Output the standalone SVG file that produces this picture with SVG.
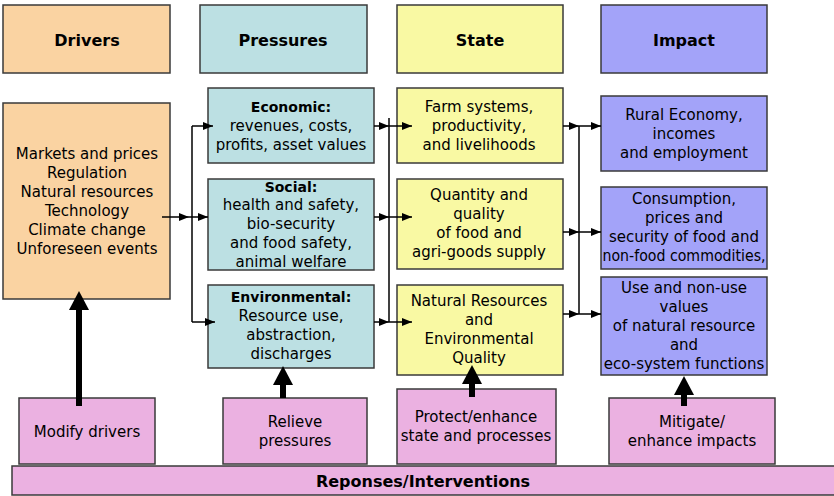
<svg xmlns="http://www.w3.org/2000/svg" width="834" height="496" viewBox="0 0 834 496">
<defs>
<style>
.b{stroke:#3a3a3a;stroke-width:1.5}
.dr{fill:#FAD3A2}.pr{fill:#BCE0E3}.st{fill:#F9F9A3}.im{fill:#A3A3F9}.re{fill:#EBB1E1}
text{font-family:"DejaVu Sans","Liberation Sans",sans-serif;font-size:15px;fill:#000;text-anchor:middle}
.h{font-weight:bold;font-size:16px}
.bt{font-weight:bold;font-size:14px}
.bb{font-weight:bold;font-size:16px}
.c{stroke:#000;stroke-width:1.5;fill:none}
.t{stroke:#000;stroke-width:6;fill:none}
</style>
<marker id="a" markerUnits="userSpaceOnUse" markerWidth="12" markerHeight="10" refX="11" refY="5" orient="auto"><path d="M1,1 L11,5 L1,9 Z" fill="#000"/></marker>
<marker id="T" markerUnits="userSpaceOnUse" markerWidth="20" markerHeight="22" refX="0" refY="11" orient="auto"><path d="M0,1 L19,11 L0,21 Z" fill="#000"/></marker>
</defs>
<g id="drivers-h"><rect class="b dr" x="3" y="5" width="167" height="68"/><text class="h" x="87" y="46">Drivers</text></g>
<g id="pressures-h"><rect class="b pr" x="200" y="5" width="167" height="68"/><text class="h" x="283" y="46">Pressures</text></g>
<g id="state-h"><rect class="b st" x="397" y="5" width="166" height="68"/><text class="h" x="480" y="46">State</text></g>
<g id="impact-h"><rect class="b im" x="601" y="5" width="166" height="68"/><text class="h" x="684" y="46">Impact</text></g>

<g id="drivers"><rect class="b dr" x="3" y="103" width="167" height="196"/>
<text x="87" y="159">Markets and prices</text><text x="87" y="178">Regulation</text><text x="87" y="197">Natural resources</text><text x="87" y="216">Technology</text><text x="87" y="235">Climate change</text><text x="87" y="254">Unforeseen events</text></g>

<g id="economic"><rect class="b pr" x="208" y="88" width="166" height="75"/>
<text class="bt" x="291" y="112">Economic:</text><text x="291" y="131">revenues, costs,</text><text x="291" y="150">profits, asset values</text></g>
<g id="social"><rect class="b pr" x="208" y="179" width="166" height="91"/>
<text class="bt" x="291" y="192">Social:</text><text x="291" y="210">health and safety,</text><text x="291" y="229">bio-security</text><text x="291" y="248">and food safety,</text><text x="291" y="267">animal welfare</text></g>
<g id="environmental"><rect class="b pr" x="208" y="285" width="166" height="83"/>
<text class="bt" x="291" y="302">Environmental:</text><text x="291" y="321">Resource use,</text><text x="291" y="340">abstraction,</text><text x="291" y="359">discharges</text></g>

<g id="farm"><rect class="b st" x="397" y="88" width="166" height="75"/>
<text x="479" y="112">Farm systems,</text><text x="479" y="131">productivity,</text><text x="479" y="150">and livelihoods</text></g>
<g id="quantity"><rect class="b st" x="397" y="179" width="166" height="90"/>
<text x="479" y="200">Quantity and</text><text x="479" y="219">quality</text><text x="479" y="238">of food and</text><text x="479" y="257">agri-goods supply</text></g>
<g id="natural"><rect class="b st" x="397" y="285" width="166" height="90"/>
<text x="479" y="306">Natural Resources</text><text x="479" y="325">and</text><text x="479" y="344">Environmental</text><text x="479" y="363">Quality</text></g>

<g id="rural"><rect class="b im" x="601" y="96" width="166" height="75"/>
<text x="684" y="120">Rural Economy,</text><text x="684" y="139">incomes</text><text x="684" y="158">and employment</text></g>
<g id="consumption"><rect class="b im" x="601" y="187" width="166" height="82"/>
<text x="684" y="204">Consumption,</text><text x="684" y="223">prices and</text><text x="684" y="242">security of food and</text><text x="684" y="261" textLength="163" lengthAdjust="spacingAndGlyphs">non-food commodities,</text></g>
<g id="use"><rect class="b im" x="601" y="277" width="166" height="98"/>
<text x="684" y="293">Use and non-use</text><text x="684" y="312">values</text><text x="684" y="331">of natural resource</text><text x="684" y="350">and</text><text x="684" y="369">eco-system functions</text></g>

<g id="responses"><rect class="b re" x="12" y="466" width="830" height="29"/><text class="bb" x="423" y="487">Reponses/Interventions</text></g>
<g id="modify"><rect class="b re" x="19" y="398" width="136" height="66"/><text x="87" y="437">Modify drivers</text></g>
<g id="relieve"><rect class="b re" x="223" y="398" width="144" height="66"/><text x="295" y="427">Relieve</text><text x="295" y="446">pressures</text></g>
<g id="protect"><rect class="b re" x="397" y="389" width="159" height="75"/><text x="476" y="422">Protect/enhance</text><text x="476" y="441">state and processes</text></g>
<g id="mitigate"><rect class="b re" x="609" y="398" width="166" height="66"/><text x="692" y="427">Mitigate/</text><text x="692" y="446">enhance impacts</text></g>

<g id="connectors">
<path class="c" d="M192 126 V322"/>
<path class="c" d="M162 217 H189" marker-end="url(#a)"/>
<path class="c" d="M189 217 H208" marker-end="url(#a)"/>
<path class="c" d="M192 126 H213" marker-end="url(#a)"/>
<path class="c" d="M192 322 H215" marker-end="url(#a)"/>
<path class="c" d="M389 118 V322"/>
<path class="c" d="M374 126 H389" marker-end="url(#a)"/>
<path class="c" d="M389 126 H412" marker-end="url(#a)"/>
<path class="c" d="M374 217 H389" marker-end="url(#a)"/>
<path class="c" d="M389 217 H412" marker-end="url(#a)"/>
<path class="c" d="M374 322 H389" marker-end="url(#a)"/>
<path class="c" d="M389 322 H412" marker-end="url(#a)"/>
<path class="c" d="M579 126 V314"/>
<path class="c" d="M563 126 H579" marker-end="url(#a)"/>
<path class="c" d="M579 126 H601" marker-end="url(#a)"/>
<path class="c" d="M563 232 H579" marker-end="url(#a)"/>
<path class="c" d="M579 232 H601" marker-end="url(#a)"/>
<path class="c" d="M563 314 H579" marker-end="url(#a)"/>
<path class="c" d="M579 314 H601" marker-end="url(#a)"/>
<path class="t" d="M79 406 V310" marker-end="url(#T)"/>
<path class="t" d="M283 398 V385" marker-end="url(#T)"/>
<path class="t" d="M472 397 V384" marker-end="url(#T)"/>
<path class="t" d="M684 406 V395" marker-end="url(#T)"/>
</g>
</svg>
